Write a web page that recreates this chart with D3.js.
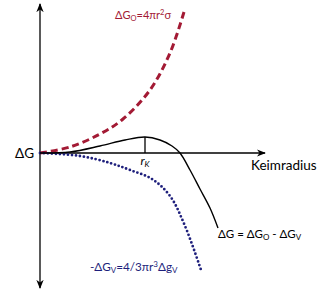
<!DOCTYPE html>
<html><head><meta charset="utf-8">
<script src="https://cdn.jsdelivr.net/npm/d3@7"></script>
<style>body{margin:0;background:#fff}svg{display:block}text{font-family:Lato,"Open Sans",sans-serif}</style>
</head><body><svg id="c" width="330" height="302"></svg>
<script>
// radius r (arbitrary units) and free energy G (arbitrary units)
const surfR = [0, 30, 60, 83, 110, 130, 144];
const surfG = [0, 6, 19, 34, 63, 100, 141];
const volR = [0, 40, 70, 90, 112, 130, 145, 161];
const volG = [0, -3, -10, -17, -26, -43, -73, -117];
const totR = [0, 30, 60, 85, 105, 120, 132, 140, 150, 160, 170, 178];
const totG = [0, 1, 7, 13, 16, 13, 7, 0, -17, -36, -55, -75];
const rCrit = 105, gCrit = 16;

const svg = d3.select("#c");
const x = d3.scaleLinear().domain([0, 225]).range([40, 265]);
const y = d3.scaleLinear().domain([-135, 149]).range([288, 4]);

const defs = svg.append("defs");
defs.append("marker").attr("id","arr").attr("viewBox","0 0 10 10").attr("refX",9).attr("refY",5)
  .attr("markerWidth",7).attr("markerHeight",7).attr("orient","auto-start-reverse")
  .append("path").attr("d","M0,1 L10,5 L0,9 L3,5 Z").attr("fill","#000");

svg.append("line").attr("x1",x(0)).attr("x2",x(0)).attr("y1",y(-135)).attr("y2",y(149))
  .attr("stroke","#000").attr("stroke-width",1.3).attr("marker-start","url(#arr)").attr("marker-end","url(#arr)");
svg.append("line").attr("x1",x(0)).attr("x2",x(225)).attr("y1",y(0)).attr("y2",y(0))
  .attr("stroke","#000").attr("stroke-width",1.3).attr("marker-end","url(#arr)");

const line = d3.line().x(d=>x(d[0])).y(d=>y(d[1])).curve(d3.curveCatmullRom.alpha(0.5));

svg.append("path").attr("d", line(d3.zip(surfR, surfG))).attr("fill","none")
  .attr("stroke","#a31a34").attr("stroke-width",3).attr("stroke-dasharray","7,4");
svg.append("path").attr("d", line(d3.zip(volR, volG))).attr("fill","none")
  .attr("stroke","#1e1f7c").attr("stroke-width",2.8).attr("stroke-linecap","round").attr("stroke-dasharray","0,4");
svg.append("path").attr("d", line(d3.zip(totR, totG))).attr("fill","none")
  .attr("stroke","#000").attr("stroke-width",1.4);

svg.append("line").attr("x1",x(rCrit)).attr("x2",x(rCrit)).attr("y1",y(0)).attr("y2",y(gCrit))
  .attr("stroke","#000").attr("stroke-width",1.3);

svg.append("text").attr("x",34).attr("y",y(0)+5).attr("text-anchor","end").attr("font-size",13.5).text("ΔG");
svg.append("text").attr("x",251).attr("y",170).attr("font-size",13.5).text("Keimradius");
const rk = svg.append("text").attr("x",x(rCrit)).attr("y",165).attr("text-anchor","middle").attr("font-size",12).attr("font-style","italic");
rk.append("tspan").text("r");
rk.append("tspan").attr("font-size",8).attr("dy",2).text("K");

const t1 = svg.append("text").attr("x",115).attr("y",19).attr("font-size",11).attr("fill","#a31a34");
t1.append("tspan").text("ΔG");
t1.append("tspan").attr("font-size",7.5).attr("dy",2).text("O");
t1.append("tspan").attr("dy",-2).text("=4πr");
t1.append("tspan").attr("font-size",7.5).attr("dy",-4).text("2");
t1.append("tspan").attr("dy",4).text("σ");

const t2 = svg.append("text").attr("x",218).attr("y",238).attr("font-size",11.5).attr("fill","#000");
t2.append("tspan").text("ΔG = ΔG");
t2.append("tspan").attr("font-size",8).attr("dy",2).text("O");
t2.append("tspan").attr("dy",-2).text(" - ΔG");
t2.append("tspan").attr("font-size",8).attr("dy",2).text("V");

const t3 = svg.append("text").attr("x",90).attr("y",271).attr("font-size",11.7).attr("fill","#1e1f7c");
t3.append("tspan").text("-ΔG");
t3.append("tspan").attr("font-size",8).attr("dy",2).text("V");
t3.append("tspan").attr("dy",-2).text("=4/3πr");
t3.append("tspan").attr("font-size",8).attr("dy",-4).text("3");
t3.append("tspan").attr("dy",4).text("Δg");
t3.append("tspan").attr("font-size",8).attr("dy",2).text("V");
</script></body></html>
